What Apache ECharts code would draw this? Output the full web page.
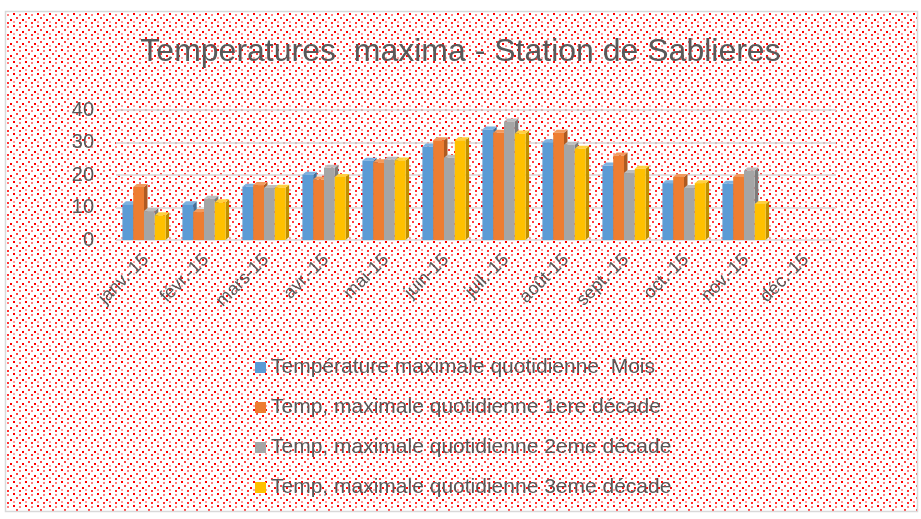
<!DOCTYPE html>
<html>
<head>
<meta charset="utf-8">
<script src="https://cdn.jsdelivr.net/npm/echarts@6/dist/echarts.min.js"></script>
<style>html,body{margin:0;padding:0;background:#fff}#c{width:921px;height:519px}</style>
</head>
<body>
<div id="c"></div>
<script>
const categories = ['janv.-15','févr.-15','mars-15','avr.-15','mai-15','juin-15','juil.-15','août-15','sept.-15','oct.-15','nov.-15','déc.-15'];
const seriesNames = ['Température maximale quotidienne  Mois','Temp, maximale quotidienne 1ere décade','Temp, maximale quotidienne 2eme décade','Temp, maximale quotidienne 3eme décade'];
const moisValues   = [11.0, 11.0, 16.4, 20.1, 24.4, 28.8, 34.0, 30.1, 22.9, 17.5, 17.3, null];
const dec1Values   = [16.3,  8.6, 16.9, 18.6, 23.9, 30.7, 33.0, 33.0, 26.0, 19.4, 19.4, null];
const dec2Values   = [ 8.9, 12.7, 16.0, 22.2, 24.7, 25.3, 36.5, 29.3, 20.6, 16.0, 21.4, null];
const dec3Values   = [ 7.6, 11.6, 16.1, 19.4, 24.5, 30.7, 32.8, 28.1, 21.9, 17.5, 11.1, null];
const yTicks = [0, 10, 20, 30, 40];

const frontColors = ['#5B9BD5','#ED7D31','#A5A5A5','#FFC000'];
const sideColors  = ['#41719C','#AE5A21','#7C7C7C','#BF9000'];
const topColors   = ['#7EB2E0','#F29A5E','#BDBDBD','#FFD040'];

// dotted pattern tile
const tile = document.createElement('canvas');
tile.width = 12; tile.height = 12;
const tc = tile.getContext('2d');
tc.fillStyle = '#ffffff'; tc.fillRect(0,0,12,12);
const dots = [[1,1,'#ff0000'],[7,2,'#ff7f7f'],[4,5,'#ff4040'],[10,7,'#ff0000'],[1,9,'#ff9f9f'],[7,10,'#ff3030']];
dots.forEach(d => { tc.fillStyle = d[2]; tc.fillRect(d[0], d[1], 2, 2); });

function make3D(idx){
  return function(params, api){
    const v = api.value(1);
    if (v === null || v === undefined || isNaN(v)) return null;
    const cat = api.value(0);
    const top = api.coord([cat, v]);
    const base = api.coord([cat, 0]);
    const w = 10.8, dx = 3.5, dy = -3;
    const x0 = top[0] - 2 + (idx - 2) * w;
    const yt = top[1], yb = base[1];
    return {
      type: 'group',
      children: [
        {type:'polygon', shape:{points:[[x0+w,yt],[x0+w+dx,yt+dy],[x0+w+dx,yb+dy],[x0+w,yb]]}, style:{fill:sideColors[idx]}},
        {type:'polygon', shape:{points:[[x0,yt],[x0+dx,yt+dy],[x0+w+dx,yt+dy],[x0+w,yt]]}, style:{fill:topColors[idx]}},
        {type:'rect', shape:{x:x0, y:yt, width:w, height:yb-yt}, style:{fill:frontColors[idx]}}
      ]
    };
  };
}

const allValues = [moisValues, dec1Values, dec2Values, dec3Values];
const series = allValues.map((vals, idx) => ({
  name: seriesNames[idx],
  type: 'custom',
  renderItem: make3D(idx),
  encode: {x: 0, y: 1},
  itemStyle: {color: frontColors[idx]},
  z: 2 + idx,
  data: vals.map((v, i) => [i, v])
}));

const chart = echarts.init(document.getElementById('c'), null, {renderer: 'canvas'});
chart.setOption({
  animation: false,
  backgroundColor: '#ffffff',
  graphic: [{
    type: 'rect', z: -10, silent: true,
    shape: {x: 5.5, y: 11.5, width: 912, height: 500},
    style: {fill: {image: tile, repeat: 'repeat'}, stroke: '#D9D9D9', lineWidth: 1.5}
  }],
  title: {
    text: 'Temperatures  maxima - Station de Sablieres',
    left: 'center', top: 31,
    textStyle: {fontFamily: 'Liberation Sans', fontSize: 32, fontWeight: 'normal', color: '#595959'}
  },
  legend: {
    orient: 'vertical', left: 250, top: 352, itemGap: 19,
    icon: 'rect', itemWidth: 11, itemHeight: 11,
    textStyle: {fontFamily: 'Liberation Sans', fontSize: 21, color: '#595959'},
    data: seriesNames
  },
  grid: {left: 116, right: 85, top: 110, bottom: 279},
  xAxis: {
    type: 'category', data: categories,
    axisLine: {show: false}, axisTick: {show: false},
    axisLabel: {rotate: 45, margin: 17, interval: 0, color: '#595959', fontFamily: 'Liberation Sans', fontSize: 18}
  },
  yAxis: {
    type: 'value', min: 0, max: 40, interval: 10,
    axisLine: {show: false}, axisTick: {show: false},
    axisLabel: {margin: 22, color: '#595959', fontFamily: 'Liberation Sans', fontSize: 20,
      formatter: v => yTicks.includes(v) ? String(v) : ''},
    splitLine: {lineStyle: {color: '#D9D9D9', width: 1.5}}
  },
  series: series
});
</script>
</body>
</html>
